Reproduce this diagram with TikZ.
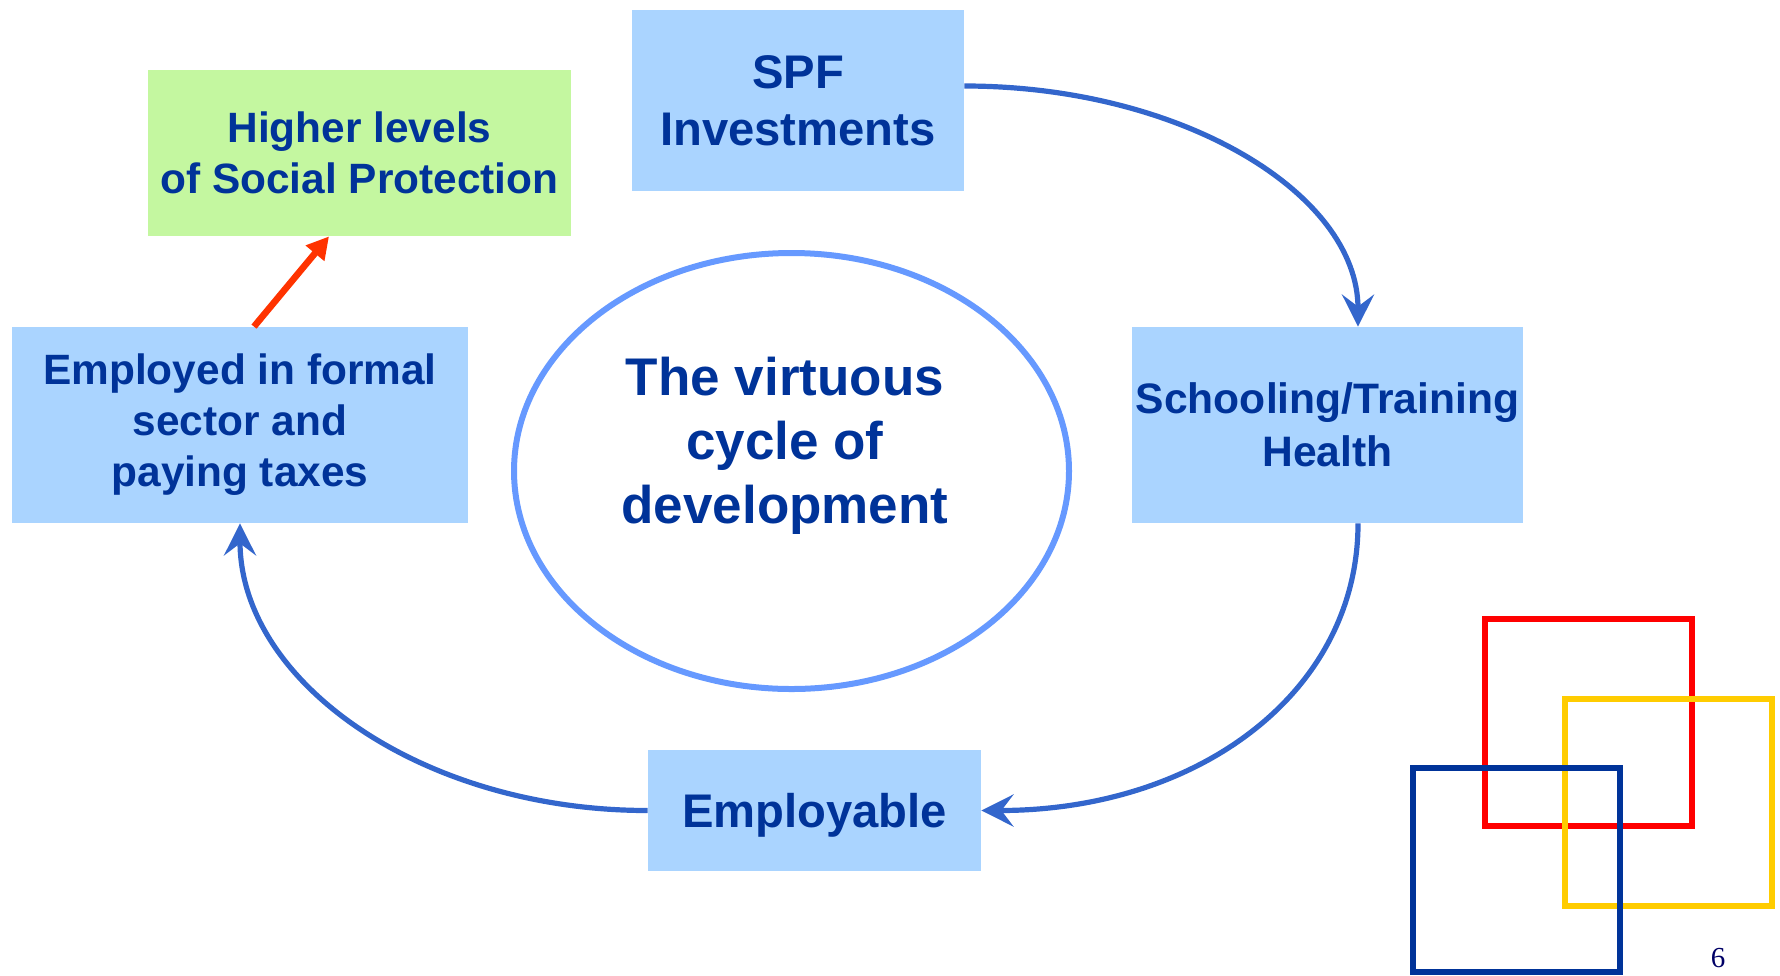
\documentclass[tikz,border=0pt]{standalone}
\usepackage{fontspec}
\setmainfont{Liberation Sans}
\newfontfamily\pagefont{Liberation Serif}
\usetikzlibrary{arrows.meta}
\definecolor{boxblue}{HTML}{AAD4FF}
\definecolor{boxgreen}{HTML}{C4F7A0}
\definecolor{navy}{HTML}{003399}
\definecolor{arrowblue}{HTML}{3366CC}
\definecolor{ringblue}{HTML}{6699FF}
\definecolor{arrowred}{HTML}{FF3300}
\definecolor{logored}{HTML}{FF0000}
\definecolor{logoyellow}{HTML}{FFCC00}
\definecolor{pagenavy}{HTML}{000066}

\begin{document}
\begin{tikzpicture}[x=0.5pt,y=-0.5pt,
    stage/.style={fill=boxblue,inner sep=0pt,align=center,text=navy},
    small/.style={font=\bfseries\fontsize{21.2}{25.5}\selectfont},
    big/.style={font=\bfseries\fontsize{23.6}{28.5}\selectfont},
    cyc/.style={draw=arrowblue,line width=2.6pt,-{Stealth[length=16pt,width=16pt,inset=6pt]}},
    logo/.style={line width=2.7pt}]
\useasboundingbox (0,0) rectangle (1780,975);
\node[stage,small,fill=boxgreen,minimum width=211.5pt,minimum height=83pt] (higher) at (359.5,153) {Higher levels\\of Social Protection};
\node[stage,big,minimum width=166pt,minimum height=90.5pt] (spf) at (798,100.5) {SPF\\Investments};
\node[stage,small,font=\bfseries\fontsize{21.3}{26.5}\selectfont,minimum width=195.5pt,minimum height=98pt] (school) at (1327.5,425) {Schooling/Training\\Health};
\node[stage,big,minimum width=166.5pt,minimum height=60.5pt,text depth=0pt] (employ) at (814.5,810.5) {Employable};
\node[stage,small,minimum width=228pt,minimum height=98pt] (worked) at (240,425) {Employed in formal\\sector and\\paying taxes};
% the ring in the middle
\draw[ringblue,line width=3pt] (791.5,471) ellipse [x radius=138.75pt,y radius=109pt];
\node[align=center,text=navy,font=\bfseries\fontsize{26.5}{32}\selectfont] (cycle) at (785,446) {The virtuous\\cycle of\\development};
% the cycle
\draw[cyc] ([yshift=7.25pt]spf.east) .. controls +(217,0) and +(0,-133) .. ([xshift=15.25pt]school.north);
\draw[cyc] ([xshift=15.25pt]school.south) .. controls +(0,168) and +(218,0) .. (employ.east);
\draw[cyc] (employ.west) .. controls +(-226,0) and +(0,158) .. (worked.south);
\draw[arrowred,line width=3.3pt,-{Triangle[length=11pt,width=11.5pt]}] ([xshift=7pt]worked.north) -- ([xshift=-15.25pt]higher.south);
% logo squares
\draw[logo,logored] (1485,619) rectangle (1692,826);
\draw[logo,logoyellow] (1565,699) rectangle (1772,906);
\draw[logo,navy] (1413,768) rectangle (1620,972);
\node[font=\pagefont\fontsize{14.5}{17}\selectfont,text=pagenavy] (page) at (1718,958) {6};
\end{tikzpicture}
\end{document}
